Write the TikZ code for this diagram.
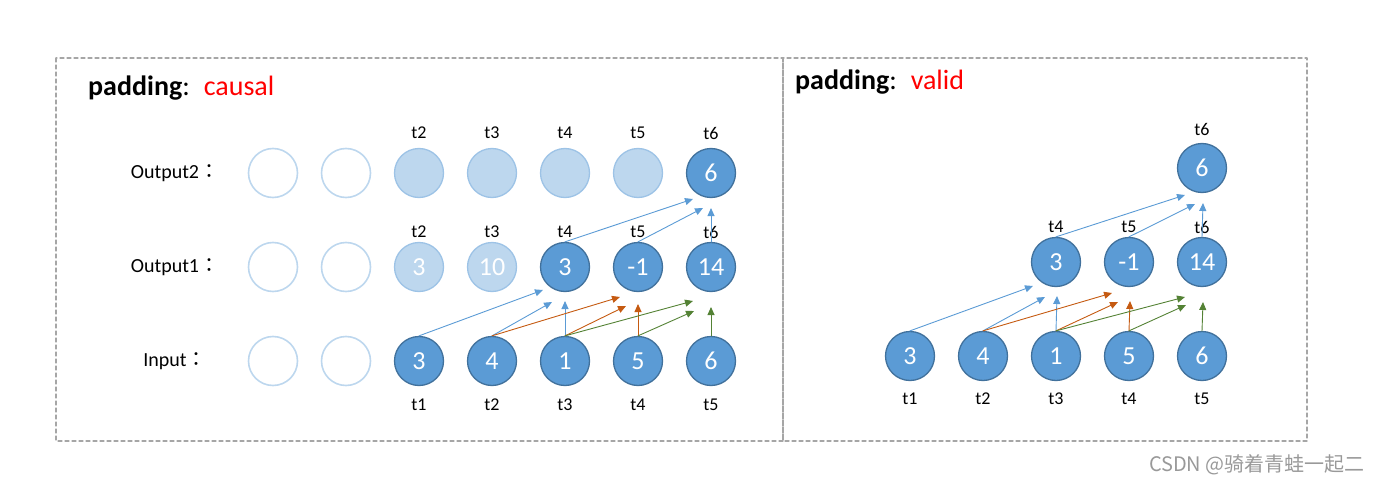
\documentclass[tikz,border=0pt]{standalone}
\usepackage{fontspec}
\setmainfont{Carlito}
\newfontfamily\cjk{Noto Sans CJK SC}
\newfontfamily\cjktc{Noto Sans CJK TC}
\usetikzlibrary{arrows.meta}
\definecolor{cfull}{HTML}{5B9BD5}
\definecolor{cfulledge}{HTML}{41719C}
\definecolor{cfade}{HTML}{BDD7EE}
\definecolor{cfadeedge}{HTML}{9DC3E6}
\definecolor{cblue}{HTML}{5B9BD5}
\definecolor{corange}{HTML}{C55A11}
\definecolor{cgreen}{HTML}{548235}
\definecolor{cframe}{HTML}{A6A6A6}
\tikzset{
  full/.style={circle,minimum size=49pt,inner sep=0pt,fill=cfull,draw=cfulledge,
    line width=1.3pt,text=white,font=\fontsize{26}{26}\selectfont},
  faded/.style={full,fill=cfade,draw=cfadeedge},
  empty/.style={full,fill=white,draw=cfade,line width=1.6pt},
  tlabel/.style={inner sep=1pt,font=\fontsize{18}{18}\selectfont},
  rowlabel/.style={inner sep=1pt,font=\fontsize{20}{20}\selectfont},
  title/.style={anchor=west,inner sep=0pt,font=\fontsize{28}{28}\selectfont},
  conn/.style={line width=0.9pt,-{Triangle[length=8pt,width=7pt]}},
}
\begin{document}
\begin{tikzpicture}[x=1pt,y=-1pt,line cap=round,line join=round]
  \useasboundingbox (0,0) rectangle (1378,484);
  \draw[cframe,line width=1.3pt,dash pattern=on 4pt off 3pt] (56,58) rectangle (783,441);
  \draw[cframe,line width=1.3pt,dash pattern=on 4pt off 3pt] (783,58) rectangle (1307,441);
  % left: causal
  \node[title] (Ltitle) at (88,88) {\textbf{padding}:\hspace{14pt}\textcolor{red}{causal}};
  \node[rowlabel] (Lrow2) at (175,173) {Output2{\cjktc ：}};
  \node[rowlabel] (Lrow1) at (175,267) {Output1{\cjktc ：}};
  \node[rowlabel] (Lrow0) at (175,361) {Input{\cjktc ：}};
  \node[empty] (Lb1) at (273,173) {};
  \node[empty] (Lb2) at (346,173) {};
  \node[faded] (Lb3) at (419,173) {};
  \node[faded] (Lb4) at (492,173) {};
  \node[faded] (Lb5) at (565,173) {};
  \node[faded] (Lb6) at (638,173) {};
  \node[full]  (Lb7) at (711,173) {6};
  \node[empty] (La1) at (273,267) {};
  \node[empty] (La2) at (346,267) {};
  \node[faded] (La3) at (419,267) {3};
  \node[faded] (La4) at (492,267) {10};
  \node[full]  (La5) at (565,267) {3};
  \node[full]  (La6) at (638,267) {-1};
  \node[full]  (La7) at (711,267) {14};
  \node[empty] (Lx1) at (273,361) {};
  \node[empty] (Lx2) at (346,361) {};
  \node[full]  (Lx3) at (419,361) {3};
  \node[full]  (Lx4) at (492,361) {4};
  \node[full]  (Lx5) at (565,361) {1};
  \node[full]  (Lx6) at (638,361) {5};
  \node[full]  (Lx7) at (711,361) {6};
  \foreach \i/\x in {2/419,3/492,4/565,5/638,6/711}
    \node[tlabel] (Ltb\i) at (\x,133) {t\i};
  \foreach \i/\x in {2/419,3/492,4/565,5/638,6/711}
    \node[tlabel] (Lta\i) at (\x,232) {t\i};
  \foreach \i/\x in {1/419,2/492,3/565,4/638,5/711}
    \node[tlabel] (Ltx\i) at (\x,405) {t\i};
  % free ends of the left arrows
  \coordinate (Le51) at (543,290);
  \coordinate (Le52) at (552,302);
  \coordinate (Le53) at (565,301);
  \coordinate (Le61) at (620,297);
  \coordinate (Le62) at (626,306);
  \coordinate (Le63) at (638,304);
  \coordinate (Le71) at (693,301);
  \coordinate (Le72) at (694,311);
  \coordinate (Le73) at (711,307);
  \coordinate (Lf1) at (693,199);
  \coordinate (Lf2) at (703,208);
  \coordinate (Lf3) at (711,208);
  \draw[conn,cblue] (Lx3.north) -- (Le51);
  \draw[conn,cblue] (Lx4.north) -- (Le52);
  \draw[conn,cblue] (Lx5.north) -- (Le53);
  \draw[conn,corange] (Lx4.north) -- (Le61);
  \draw[conn,corange] (Lx5.north) -- (Le62);
  \draw[conn,corange] (Lx6.north) -- (Le63);
  \draw[conn,cgreen] (Lx5.north) -- (Le71);
  \draw[conn,cgreen] (Lx6.north) -- (Le72);
  \draw[conn,cgreen] (Lx7.north) -- (Le73);
  \draw[conn,cblue] (La5.north) -- (Lf1);
  \draw[conn,cblue] (La6.north) -- (Lf2);
  \draw[conn,cblue] (La7.north) -- (Lf3);
  % right: valid
  \node[title] (Rtitle) at (795,82) {\textbf{padding}:\hspace{14pt}\textcolor{red}{valid}};
  \node[full] (Rb3) at (1202,168) {6};
  \node[full] (Ra1) at (1056,262) {3};
  \node[full] (Ra2) at (1129,262) {-1};
  \node[full] (Ra3) at (1202,262) {14};
  \node[full] (Rx1) at (910,356) {3};
  \node[full] (Rx2) at (983,356) {4};
  \node[full] (Rx3) at (1056,356) {1};
  \node[full] (Rx4) at (1129,356) {5};
  \node[full] (Rx5) at (1202,356) {6};
  \node[tlabel] (Rtb6) at (1202,129) {t6};
  \foreach \i/\x in {4/1056,5/1129,6/1202}
    \node[tlabel] (Rta\i) at (\x,227) {t\i};
  \foreach \i/\x in {1/910,2/983,3/1056,4/1129,5/1202}
    \node[tlabel] (Rtx\i) at (\x,399) {t\i};
  % free ends of the right arrows
  \coordinate (Re11) at (1033,286);
  \coordinate (Re12) at (1045,297);
  \coordinate (Re13) at (1057,296);
  \coordinate (Re21) at (1112,293);
  \coordinate (Re22) at (1118,302);
  \coordinate (Re23) at (1130,301);
  \coordinate (Re31) at (1185,297);
  \coordinate (Re32) at (1186,305);
  \coordinate (Re33) at (1203,302);
  \coordinate (Rf1) at (1185,195);
  \coordinate (Rf2) at (1195,204);
  \coordinate (Rf3) at (1203,203);
  \draw[conn,cblue] (Rx1.north) -- (Re11);
  \draw[conn,cblue] (Rx2.north) -- (Re12);
  \draw[conn,cblue] (Rx3.north) -- (Re13);
  \draw[conn,corange] (Rx2.north) -- (Re21);
  \draw[conn,corange] (Rx3.north) -- (Re22);
  \draw[conn,corange] (Rx4.north) -- (Re23);
  \draw[conn,cgreen] (Rx3.north) -- (Re31);
  \draw[conn,cgreen] (Rx4.north) -- (Re32);
  \draw[conn,cgreen] (Rx5.north) -- (Re33);
  \draw[conn,cblue] (Ra1.north) -- (Rf1);
  \draw[conn,cblue] (Ra2.north) -- (Rf2);
  \draw[conn,cblue] (Ra3.north) -- (Rf3);
  \node[anchor=east,inner sep=0pt,text=black!40,font=\cjk\fontsize{20}{20}\selectfont] (mark) at (1365,465) {CSDN @骑着青蛙一起二};
\end{tikzpicture}
\end{document}
